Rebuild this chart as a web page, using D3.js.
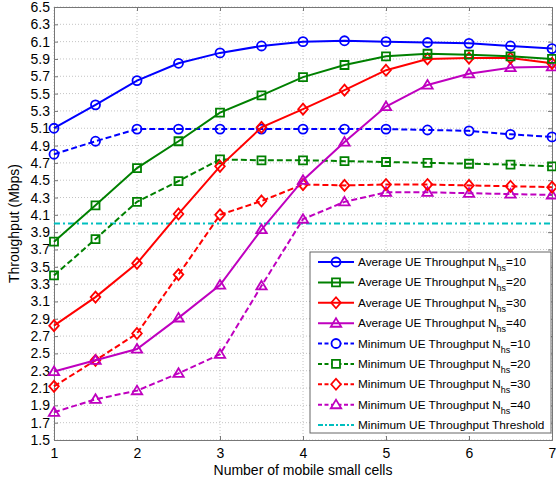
<!DOCTYPE html>
<html lang="en">
<head>
    <meta charset="UTF-8">
    <title>Throughput</title>
    <script src="https://d3js.org/d3.v7.min.js" type="text/JavaScript"></script>
    <style>
        body { margin: 0; background: #fff; }
        text { font-family: Arial, "Liberation Sans", sans-serif; fill: #000; }
    </style>
</head>
<body>
<svg height="480" id="chart" width="556"></svg>
<script>
    // 横坐标: 小基站数量
    var cells = [1, 1.5, 2, 2.5, 3, 3.5, 4, 4.5, 5, 5.5, 6, 6.5, 7];
    var xTicks = [1, 2, 3, 4, 5, 6, 7];
    var yTicks = [1.5, 1.7, 1.9, 2.1, 2.3, 2.5, 2.7, 2.9, 3.1, 3.3, 3.5, 3.7, 3.9, 4.1, 4.3,
        4.5, 4.7, 4.9, 5.1, 5.3, 5.5, 5.7, 5.9, 6.1, 6.3, 6.5];

    var avg10 = [5.10, 5.37, 5.65, 5.85, 5.97, 6.05, 6.10, 6.11, 6.10, 6.09, 6.08, 6.05, 6.02];
    var avg20 = [3.79, 4.21, 4.64, 4.95, 5.28, 5.48, 5.69, 5.83, 5.93, 5.96, 5.95, 5.93, 5.90];
    var avg30 = [2.82, 3.15, 3.54, 4.11, 4.66, 5.11, 5.32, 5.54, 5.77, 5.90, 5.91, 5.91, 5.85];
    var avg40 = [2.29, 2.42, 2.55, 2.91, 3.29, 3.93, 4.50, 4.94, 5.35, 5.60, 5.73, 5.80, 5.81];
    var min10 = [4.80, 4.95, 5.09, 5.09, 5.09, 5.09, 5.09, 5.09, 5.09, 5.08, 5.07, 5.03, 5.00];
    var min20 = [3.40, 3.82, 4.25, 4.49, 4.74, 4.73, 4.73, 4.72, 4.71, 4.70, 4.69, 4.68, 4.66];
    var min30 = [2.12, 2.42, 2.73, 3.41, 4.10, 4.26, 4.45, 4.44, 4.45, 4.45, 4.44, 4.43, 4.42];
    var min40 = [1.82, 1.97, 2.07, 2.27, 2.49, 3.28, 4.05, 4.25, 4.36, 4.36, 4.35, 4.34, 4.33];
    var threshold = 4.0;

    var seriesNames = ['Average UE Throughput N', 'Average UE Throughput N', 'Average UE Throughput N',
        'Average UE Throughput N', 'Minimum UE Throughput N', 'Minimum UE Throughput N',
        'Minimum UE Throughput N', 'Minimum UE Throughput N'];
    var seriesNhs = ['10', '20', '30', '40', '10', '20', '30', '40'];

    var blue = '#0000ff', green = '#008000', red = '#ff0000', magenta = '#bf00bf', cyan = '#00bfbf';

    var series = [
        {values: avg10, color: blue, sym: 'circle', dash: null},
        {values: avg20, color: green, sym: 'square', dash: null},
        {values: avg30, color: red, sym: 'diamond', dash: null},
        {values: avg40, color: magenta, sym: 'triangle', dash: null},
        {values: min10, color: blue, sym: 'circle', dash: '6,3'},
        {values: min20, color: green, sym: 'square', dash: '6,3'},
        {values: min30, color: red, sym: 'diamond', dash: '6,3'},
        {values: min40, color: magenta, sym: 'triangle', dash: '6,3'}
    ];

    var plotL = 54, plotR = 552, plotT = 7, plotB = 440;
    var svg = d3.select('#chart');
    var x = d3.scaleLinear().domain([1, 7]).range([plotL, plotR]);
    var y = d3.scaleLinear().domain([1.5, 6.5]).range([plotB, plotT]);

    // 网格
    var grid = svg.append('g').attr('stroke', '#c4c4c4').attr('stroke-width', 1).attr('stroke-dasharray', '1,2');
    grid.selectAll('.gx').data(xTicks).enter().append('line')
        .attr('x1', d => x(d)).attr('x2', d => x(d)).attr('y1', plotT).attr('y2', plotB);
    grid.selectAll('.gy').data(yTicks).enter().append('line')
        .attr('x1', plotL).attr('x2', plotR).attr('y1', d => y(d)).attr('y2', d => y(d));

    // 坐标轴
    svg.append('g').attr('transform', 'translate(0,' + plotB + ')')
        .call(d3.axisBottom(x).tickValues(xTicks).tickSize(-4).tickPadding(8).tickFormat(d3.format('d')));
    svg.append('g').attr('transform', 'translate(' + plotL + ',0)')
        .call(d3.axisLeft(y).tickValues(yTicks).tickSize(-4).tickPadding(4).tickFormat(d3.format('.1f')));
    svg.append('g').attr('transform', 'translate(0,' + plotT + ')')
        .call(d3.axisTop(x).tickValues(xTicks).tickSize(-4).tickFormat(''));
    svg.append('g').attr('transform', 'translate(' + plotR + ',0)')
        .call(d3.axisRight(y).tickValues(yTicks).tickSize(-4).tickFormat(''));
    svg.selectAll('.domain, .tick line').attr('stroke', '#777');
    svg.selectAll('.tick text').style('font-size', '14px').style('font-family', 'Arial, "Liberation Sans", sans-serif').attr('fill', '#000');

    svg.append('text').attr('x', (plotL + plotR) / 2).attr('y', 475).attr('text-anchor', 'middle')
        .style('font-size', '14px').text('Number of mobile small cells');
    svg.append('text').attr('transform', 'translate(19,' + (plotT + plotB) / 2 + ') rotate(-90)')
        .attr('text-anchor', 'middle').style('font-size', '14px').text('Throughput (Mbps)');

    // 标记形状
    function symbolPath(name) {
        if (name === 'circle') return d3.symbol().type(d3.symbolCircle).size(64)();
        if (name === 'square') return 'M-4,-4L4,-4L4,4L-4,4Z';
        if (name === 'diamond') return 'M0,-5.5L4.8,0L0,5.5L-4.8,0Z';
        return 'M0,-5L5.2,3.6L-5.2,3.6Z';
    }

    var line = d3.line().x((d, i) => x(cells[i])).y(d => y(d));

    // 门限
    svg.append('line')
        .attr('x1', x(1)).attr('x2', x(7)).attr('y1', y(threshold)).attr('y2', y(threshold))
        .attr('stroke', cyan).attr('stroke-width', 2).attr('stroke-dasharray', '6,3,2,3');

    series.slice().reverse().forEach(function (s) {
        svg.append('path').attr('d', line(s.values)).attr('fill', 'none')
            .attr('stroke', s.color).attr('stroke-width', 2).attr('stroke-dasharray', s.dash);
        svg.append('g').selectAll('path').data(s.values).enter().append('path')
            .attr('transform', (d, i) => 'translate(' + x(cells[i]) + ',' + y(d) + ')')
            .attr('d', symbolPath(s.sym)).attr('fill', 'none')
            .attr('stroke', s.color).attr('stroke-width', 1.8);
    });

    // 图例
    var lg = svg.append('g');
    lg.append('rect').attr('x', 310).attr('y', 252).attr('width', 241).attr('height', 181)
        .attr('fill', '#fff').attr('stroke', '#666').attr('stroke-width', 1);
    var rowY = d3.scaleLinear().domain([0, 8]).range([262, 425]);
    series.forEach(function (s, i) {
        var g = lg.append('g').attr('transform', 'translate(0,' + rowY(i) + ')');
        g.append('line').attr('x1', 318).attr('x2', 354).attr('stroke', s.color).attr('stroke-width', 2)
            .attr('stroke-dasharray', s.dash ? '4,2.5' : null);
        g.append('path').attr('transform', 'translate(336,0)').attr('d', symbolPath(s.sym))
            .attr('fill', s.dash ? '#fff' : 'none').attr('stroke', s.color).attr('stroke-width', 1.8);
        var t = g.append('text').attr('x', 358).attr('y', 4).style('font-size', '11.8px');
        t.append('tspan').text(seriesNames[i]);
        t.append('tspan').attr('dy', 5).style('font-size', '9px').text('hs');
        t.append('tspan').attr('dy', -5).text('=' + seriesNhs[i]);
    });
    var tg = lg.append('g').attr('transform', 'translate(0,' + rowY(8) + ')');
    tg.append('line').attr('x1', 318).attr('x2', 354).attr('stroke', cyan).attr('stroke-width', 2)
        .attr('stroke-dasharray', '5,2,2,2');
    tg.append('text').attr('x', 358).attr('y', 4).style('font-size', '11.8px').text('Minimum UE Throughput Threshold');
</script>
</body>
</html>
